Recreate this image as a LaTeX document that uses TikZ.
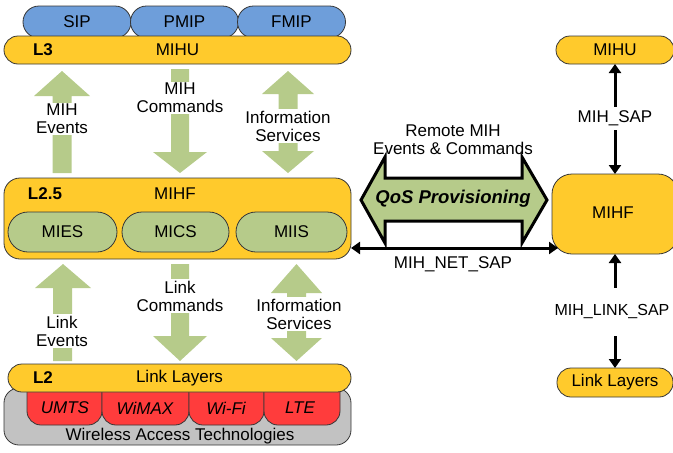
\documentclass[tikz,border=0pt]{standalone}
\usepackage{fontspec}
\setmainfont{Liberation Sans}
\usetikzlibrary{arrows.meta}
\definecolor{yel}{RGB}{255,202,44}
\definecolor{blu}{RGB}{110,158,218}
\definecolor{grn}{RGB}{182,203,138}
\definecolor{redb}{RGB}{255,60,60}
\definecolor{gry}{RGB}{194,194,194}
\definecolor{edgec}{RGB}{55,55,55}
\begin{document}
\begin{tikzpicture}[x=1pt,y=-1pt,font=\fontsize{17}{18}\selectfont,
  base/.style={draw=edgec,line width=0.8pt,inner sep=0pt,outer sep=0pt},
  bluebox/.style={base,fill=blu,minimum width=108,minimum height=32,rounded corners=16},
  yelbar/.style={base,fill=yel,minimum height=28,rounded corners=14},
  greenpill/.style={base,fill=grn,minimum height=40,rounded corners=20},
  redbox/.style={base,fill=redb,minimum height=53,rounded corners=14},
  graybox/.style={base,fill=gry,minimum height=57,minimum width=347,rounded corners=15},
  txt/.style={inner sep=0pt,align=center},
  lbl/.style={fill=white,inner sep=1.5pt,align=center},
  bigarrow/.style={fill=grn,draw=none},
  tipped/.style={line width=3pt,{Triangle[length=9pt,width=12pt]}-{Triangle[length=9pt,width=12pt]}}]
\useasboundingbox (0,0) rectangle (673,453);

% ---------- top protocols and MIHU ----------
\node[bluebox] (sip)  at (77,22)    {SIP};
\node[bluebox] (pmip) at (184.5,22) {PMIP};
\node[bluebox] (fmip) at (291.5,22) {FMIP};
\node[yelbar,minimum width=347] (mihu) at (177.5,50) {MIHU};
\node[txt,font=\fontsize{17}{18}\selectfont\bfseries] (l3) at (43,50) {L3};

% ---------- upper block arrows ----------
\fill[bigarrow] (62,71) -- (90,96) -- (71.5,96) -- (71.5,173) -- (52.5,173) -- (52.5,96) -- (34,96) -- cycle;
\fill[bigarrow] (171,69) -- (189,69) -- (189,152) -- (207,152) -- (180,173) -- (153,152) -- (171,152) -- cycle;
\fill[bigarrow] (288,71) -- (314,94) -- (297.5,94) -- (297.5,151) -- (314,151) -- (288,173) -- (262,151) -- (278.5,151) -- (278.5,94) -- (262,94) -- cycle;
\node[lbl] (mihev) at (62,119) {MIH\\Events};
\node[lbl] (mihcmd) at (180,98) {MIH\\Commands};
\node[lbl] (infoup) at (288,126) {Information\\Services};

% ---------- MIHF ----------
\node[base,fill=yel,minimum width=347,minimum height=81,rounded corners=16] (mihf) at (177.5,218.5) {};
\node[txt,font=\fontsize{17}{18}\selectfont\bfseries] (l25) at (45,194) {L2.5};
\node[txt] (mihft) at (175,194) {MIHF};
\node[greenpill,minimum width=109] (mies) at (62.5,232) {MIES};
\node[greenpill,minimum width=107] (mics) at (175.5,232) {MICS};
\node[greenpill,minimum width=111] (miis) at (291.5,232) {MIIS};

% ---------- lower block arrows ----------
\fill[bigarrow] (63,264) -- (91,288) -- (72,288) -- (72,361) -- (53,361) -- (53,288) -- (35,288) -- cycle;
\fill[bigarrow] (171,264) -- (189,264) -- (189,336) -- (207,336) -- (180,361) -- (153,336) -- (171,336) -- cycle;
\fill[bigarrow] (296.5,264) -- (322,293) -- (306,293) -- (306,338) -- (322,338) -- (296.5,361) -- (271,338) -- (287,338) -- (287,293) -- (271,293) -- cycle;
\node[lbl] (linkev) at (62,331) {Link\\Events};
\node[lbl] (linkcmd) at (180,296) {Link\\Commands};
\node[lbl] (infolow) at (299,314) {Information\\Services};

% ---------- L2 and access technologies ----------
\node[graybox] (wat) at (177.5,416.5) {};
\node[txt] (watt) at (180,436) {Wireless Access Technologies};
\node[redbox,minimum width=75] (umts)  at (64.5,398.5) {};
\node[redbox,minimum width=87] (wimax) at (145.5,398.5) {};
\node[redbox,minimum width=75] (wifi)  at (226.5,398.5) {};
\node[redbox,minimum width=76] (lte)   at (302,398.5) {};
\node[txt,font=\fontsize{17}{18}\selectfont\itshape] (umtst)  at (65,408)  {UMTS};
\node[txt,font=\fontsize{17}{18}\selectfont\itshape] (wimaxt) at (145,408) {WiMAX};
\node[txt,font=\fontsize{17}{18}\selectfont\itshape] (wifit)  at (226,408) {Wi-Fi};
\node[txt,font=\fontsize{17}{18}\selectfont\itshape] (ltet)   at (300,408) {LTE};
\node[yelbar,minimum width=343] (l2bar) at (179.5,378) {Link Layers};
\node[txt,font=\fontsize{17}{18}\selectfont\bfseries] (l2) at (43,378) {L2};

% ---------- remote side ----------
\node[yelbar,minimum width=118] (rmihu) at (615,50) {MIHU};
\node[base,fill=yel,minimum width=126,minimum height=80,rounded corners=20] (rmihf) at (615,214) {};
\node[txt] (rmihft) at (613,213) {MIHF};
\node[yelbar,minimum width=116,minimum height=29] (rlink) at (615,382.5) {Link Layers};

\draw[tipped] (rmihu) -- (rmihf);
\node[fill=white,inner sep=0pt,minimum height=23] (sap) at (615,118) {MIH\_SAP};
\draw[tipped] (rmihf) -- (rlink);
\node[fill=white,inner sep=0pt,minimum height=48,font=\fontsize{16}{18}\selectfont] (linksap) at (612,311.5) {MIH\_LINK\_SAP};

% ---------- QoS provisioning ----------
\draw[line width=3pt,fill=grn] (361,200) -- (385,157) -- (385,178) -- (522,178) -- (522,157) -- (547,200) -- (522,243) -- (522,221) -- (385,221) -- (385,243) -- cycle;
\node[txt,font=\fontsize{18.5}{20}\selectfont\bfseries\itshape] (qos) at (453,199) {QoS Provisioning};
\node[txt] (remote) at (453,140) {Remote MIH\\Events \& Commands};

\coordinate (netL) at (351,248);
\coordinate (netR) at (558,248);
\draw[tipped] (netL) -- (netR);
\node[txt] (netsap) at (453,264) {MIH\_NET\_SAP};
\end{tikzpicture}
\end{document}
